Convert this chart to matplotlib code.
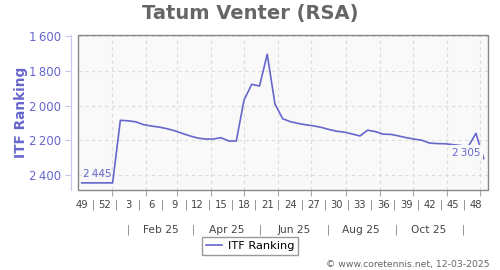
import datetime
import matplotlib.pyplot as plt
import matplotlib.transforms as mtransforms
from matplotlib.patches import Rectangle
from matplotlib.ticker import FuncFormatter

# weekly ITF ranking, first point = week 49 of 2024
ranking = [2445, 2445, 2445, 2445, 2445, 2085, 2088, 2094, 2110, 2118,
           2124, 2133, 2145, 2160, 2175, 2187, 2193, 2193, 2185, 2204,
           2204, 1968, 1878, 1888, 1705, 1991, 2076, 2093, 2103, 2111,
           2117, 2126, 2138, 2148, 2153, 2164, 2175, 2142, 2150, 2165,
           2166, 2175, 2185, 2193, 2200, 2216, 2219, 2220, 2225, 2230,
           2236, 2160, 2305]
week_labels = ['49', '52', '3', '6', '9', '12', '15', '18', '21', '24',
               '27', '30', '33', '36', '39', '42', '45', '48']
month_labels = ['Feb 25', 'Apr 25', 'Jun 25', 'Aug 25', 'Oct 25']
first_week = datetime.date(2024, 12, 5)

line_col = '#6666cc'
grid_col = '#dcdcdc'


def pos(d):
    return (d - first_week).days / 7.0


x = list(range(len(ranking)))

fig = plt.figure(figsize=(5, 2.7), dpi=100)
ax = fig.add_axes([0.1566, 0.2963, 0.8188, 0.573])
ax.set_facecolor('#f9f9f9')

ax.plot(x, ranking, color=line_col, lw=1.2, label='ITF Ranking', zorder=3)

ax.set_xlim(-0.44, 52.52)
ax.set_ylim(2486, 1596)

# y axis
ax.set_yticks([1600, 1800, 2000, 2200, 2400])
ax.yaxis.set_major_formatter(FuncFormatter(lambda v, p: f'{int(v):,}'.replace(',', '\u2009')))
ax.tick_params(axis='y', length=4, color='#c8c8ee', labelcolor=line_col, labelsize=8.5, pad=3)
fig.text(21 / 500, 1 - 112.6 / 270, 'ITF Ranking', rotation=90, ha='center', va='center',
         color=line_col, fontsize=9.8, fontweight='bold')

# month grid on x, no labels
month_starts = [pos(datetime.date(2025, m, 1)) for m in range(1, 13)]
ax.set_xticks(month_starts)
ax.set_xticklabels([])
ax.tick_params(axis='x', length=4, color='#aaaaaa')
ax.grid(True, color=grid_col, ls=(0, (3, 3)), lw=0.8)

for s in ['top', 'right', 'bottom']:
    ax.spines[s].set_visible(False)
ax.spines['left'].set_position(('outward', 5.6))
ax.spines['left'].set_color('#c8c8ee')
ax.add_patch(Rectangle((0, 0), 1, 1, transform=ax.transAxes, fill=False,
                       ec='#888888', lw=1, clip_on=False, zorder=4))

# week labels and separators
trans = mtransforms.blended_transform_factory(ax.transData, ax.transAxes)
wpos = [3 * k for k in range(len(week_labels))]
for p, lab in zip(wpos, week_labels):
    ax.text(p, -0.097, lab, transform=trans, ha='center', va='center', fontsize=7.2, color='#444444')
for k in range(len(wpos) - 1):
    ax.text((wpos[k] + wpos[k + 1]) / 2, -0.097, '|', transform=trans, ha='center', va='center',
            fontsize=7, color='#777777')

# month labels and separators
for k, lab in enumerate(month_labels):
    m = 2 + 2 * k
    ax.text(pos(datetime.date(2025, m, 15)), -0.259, lab, transform=trans, ha='center', va='center',
            fontsize=7.7, color='#444444')
for m in [1, 3, 5, 7, 9, 11]:
    ax.text(pos(datetime.date(2025, m, 16)), -0.259, '|', transform=trans, ha='center', va='center',
            fontsize=7, color='#777777')

# first / last value labels
fmt = lambda v: f'{v:,}'.replace(',', '\u2009')
ax.annotate(fmt(ranking[0]), (x[0], ranking[0]), xytext=(1, 9), textcoords='offset pixels',
            ha='left', va='center', fontsize=7.5, color=line_col, zorder=5)
ax.annotate(fmt(ranking[-1]), (x[-1], ranking[-1]), xytext=(-3, 6), textcoords='offset pixels',
            ha='right', va='center', fontsize=7.5, color=line_col, zorder=5,
            bbox=dict(boxstyle='square,pad=0.2', fc='#f9f9f9', ec='none'))

fig.suptitle('Tatum Venter (RSA)', x=0.5, y=1 - 14 / 270, va='center', fontsize=14,
             fontweight='bold', color='#666666')

fig.legend(loc='center', bbox_to_anchor=(0.5, 1 - 246 / 270), fontsize=8.2, fancybox=False,
           edgecolor='#999999', framealpha=1, handlelength=1.4, handletextpad=0.5, borderpad=0.35)

fig.text(489 / 500, 1 - 264 / 270, '\u00a9 www.coretennis.net, 12-03-2025', ha='right', va='center',
         fontsize=6.7, color='#666666')

fig.savefig('out.png', dpi=100)
